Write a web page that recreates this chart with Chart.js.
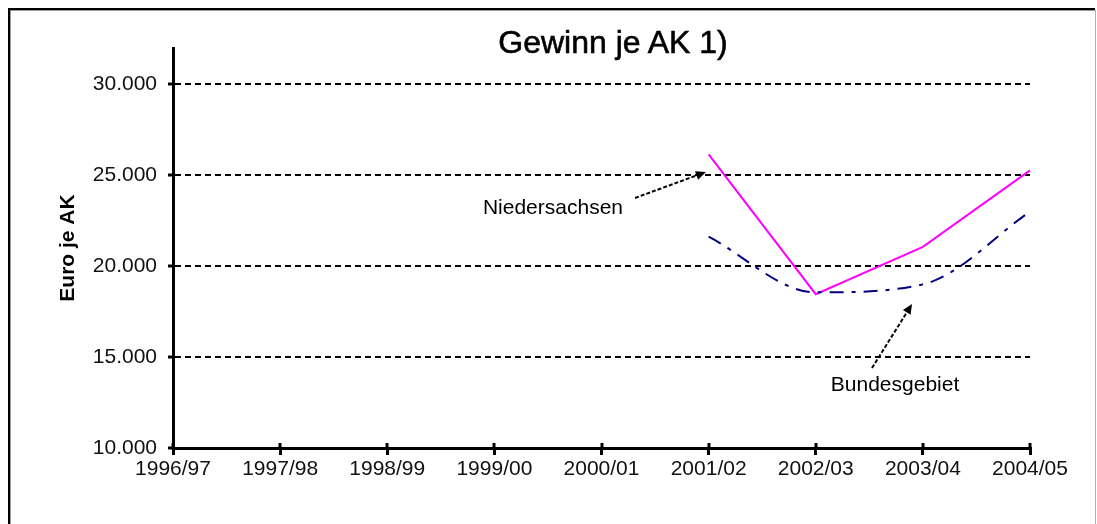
<!DOCTYPE html>
<html>
<head>
<meta charset="utf-8">
<script src="https://cdn.jsdelivr.net/npm/chart.js@4/dist/chart.umd.min.js"></script>
<style>
  html, body { margin: 0; padding: 0; background: #fff; }
  #wrap { position: relative; width: 1097px; height: 524px; overflow: hidden; }
  #frameOuter { position: absolute; left: 8px; top: 8px; width: 1087px; height: 540px;
    border-left: 2px solid #000; border-top: 2px solid #000; box-sizing: border-box; }
  #frameInner { position: absolute; left: 10px; top: 10px; width: 1086px; height: 540px;
    border-left: 1px solid #9a9a9a; border-top: 1px solid #9a9a9a; border-right: 1px solid #b0b0b0; box-sizing: border-box; }
  #title { position: absolute; left: 413px; width: 400px; top: 23px; text-align: center;
    font-family: "Liberation Sans", Arial, sans-serif; font-size: 32px; font-weight: normal;
    -webkit-text-stroke: 0.6px #000; color: #000; line-height: 38px; }
  canvas { position: absolute; left: 0; top: 0; }
</style>
</head>
<body>
<div id="wrap">
  <div id="frameOuter"></div>
  <div id="frameInner"></div>
  <canvas id="c" width="1097" height="524"></canvas>
  <div id="title">Gewinn je AK 1)</div>
</div>
<script>
const categories = ['1996/97','1997/98','1998/99','1999/00','2000/01','2001/02','2002/03','2003/04','2004/05'];
const niedersachsen = [null, null, null, null, null, 26150, 18460, 21060, 25270];
const bundesgebiet  = [null, null, null, null, null, 21620, 18560, 19000, 23000];
const yTickValues = [10000, 15000, 20000, 25000, 30000];
const yAxisTitle = 'Euro je AK';
const annoLabels = ['Niedersachsen', 'Bundesgebiet'];
const annoTextAt = [[3.547, 23200], [6.74, 13465]];
const annoArrowFrom = [[4.313, 23750], [6.525, 14400]];
const annoArrowTo = [[4.975, 25180], [6.899, 17920]];

const FONT = '"Liberation Sans", Arial, sans-serif';

function fmt(v) {
  const s = String(Math.round(v));
  return s.replace(/\B(?=(\d{3})+(?!\d))/g, '.');
}

const decorPlugin = {
  id: 'decor',
  afterDatasetsDraw(chart) {
    const ctx = chart.ctx;
    const xs = chart.scales.x, ys = chart.scales.y;
    // upper halves of x tick marks (crossing the axis)
    ctx.save();
    ctx.strokeStyle = '#000';
    ctx.lineWidth = 3;
    for (let i = 0; i < categories.length; i++) {
      const px = Math.round(xs.getPixelForTick(i));
      ctx.beginPath();
      ctx.moveTo(px, ys.bottom - 5);
      ctx.lineTo(px, ys.bottom);
      ctx.stroke();
    }
    ctx.restore();
    // annotations
    for (let k = 0; k < annoLabels.length; k++) {
      const tx = xs.getPixelForValue(annoTextAt[k][0]);
      const ty = ys.getPixelForValue(annoTextAt[k][1]);
      ctx.save();
      ctx.fillStyle = '#000';
      ctx.font = '21px ' + FONT;
      ctx.textAlign = 'center';
      ctx.textBaseline = 'middle';
      ctx.fillText(annoLabels[k], tx, ty);
      const x1 = xs.getPixelForValue(annoArrowFrom[k][0]);
      const y1 = ys.getPixelForValue(annoArrowFrom[k][1]);
      const x2 = xs.getPixelForValue(annoArrowTo[k][0]);
      const y2 = ys.getPixelForValue(annoArrowTo[k][1]);
      const ang = Math.atan2(y2 - y1, x2 - x1);
      ctx.strokeStyle = '#000';
      ctx.lineWidth = 2;
      ctx.setLineDash([4, 2]);
      ctx.beginPath();
      ctx.moveTo(x1, y1);
      ctx.lineTo(x2 - 6 * Math.cos(ang), y2 - 6 * Math.sin(ang));
      ctx.stroke();
      ctx.setLineDash([]);
      const L = 10, W = 4.5;
      ctx.beginPath();
      ctx.moveTo(x2, y2);
      ctx.lineTo(x2 - L * Math.cos(ang) + W * Math.sin(ang), y2 - L * Math.sin(ang) - W * Math.cos(ang));
      ctx.lineTo(x2 - L * Math.cos(ang) - W * Math.sin(ang), y2 - L * Math.sin(ang) + W * Math.cos(ang));
      ctx.closePath();
      ctx.fill();
      ctx.restore();
    }
  }
};

new Chart(document.getElementById('c'), {
  type: 'line',
  data: {
    labels: categories,
    datasets: [
      {
        label: 'Bundesgebiet',
        data: bundesgebiet,
        borderColor: '#000080',
        borderWidth: 2,
        borderDash: [14, 8, 4, 8],
        cubicInterpolationMode: 'monotone',
        pointRadius: 0,
        fill: false
      },
      {
        label: 'Niedersachsen',
        data: niedersachsen,
        borderColor: '#ff00ff',
        borderWidth: 2,
        tension: 0,
        pointRadius: 0,
        fill: false
      }
    ]
  },
  options: {
    responsive: false,
    animation: false,
    devicePixelRatio: 1,
    layout: { padding: { left: 0, top: 48, right: 67, bottom: 36 } },
    plugins: {
      legend: { display: false },
      title: { display: false },
      tooltip: { enabled: false }
    },
    scales: {
      x: {
        type: 'category',
        offset: false,
        border: { display: true, color: '#000', width: 3 },
        grid: { display: true, drawOnChartArea: false, color: '#000', lineWidth: 3, tickLength: 7 },
        ticks: { color: '#111', font: { family: FONT, size: 21 }, padding: 2, maxRotation: 0, autoSkip: false },
        afterFit(s) { s.height = 40; s.paddingLeft = 0; s.paddingRight = 0; }
      },
      y: {
        min: 10000,
        max: 32000,
        border: { display: true, color: '#000', width: 3, dash: [6, 4] },
        grid: {
          color: (c) => (c.tick && c.tick.value === 10000) ? 'rgba(0,0,0,0)' : '#000',
          lineWidth: 2,
          tickColor: '#000',
          tickWidth: 3,
          tickLength: 5,
          tickBorderDash: []
        },
        ticks: {
          stepSize: 5000,
          color: '#111',
          font: { family: FONT, size: 21 },
          padding: 11,
          callback: (v) => fmt(v)
        },
        afterBuildTicks(s) { s.ticks = yTickValues.map(v => ({ value: v })); },
        title: {
          display: true,
          text: yAxisTitle,
          color: '#000',
          font: { family: FONT, size: 21, weight: 'bold' },
          padding: { top: 56, bottom: 0 }
        },
        afterFit(s) { s.width = 173; s.paddingTop = 0; s.paddingBottom = 0; }
      }
    }
  },
  plugins: [decorPlugin]
});
</script>
</body>
</html>
